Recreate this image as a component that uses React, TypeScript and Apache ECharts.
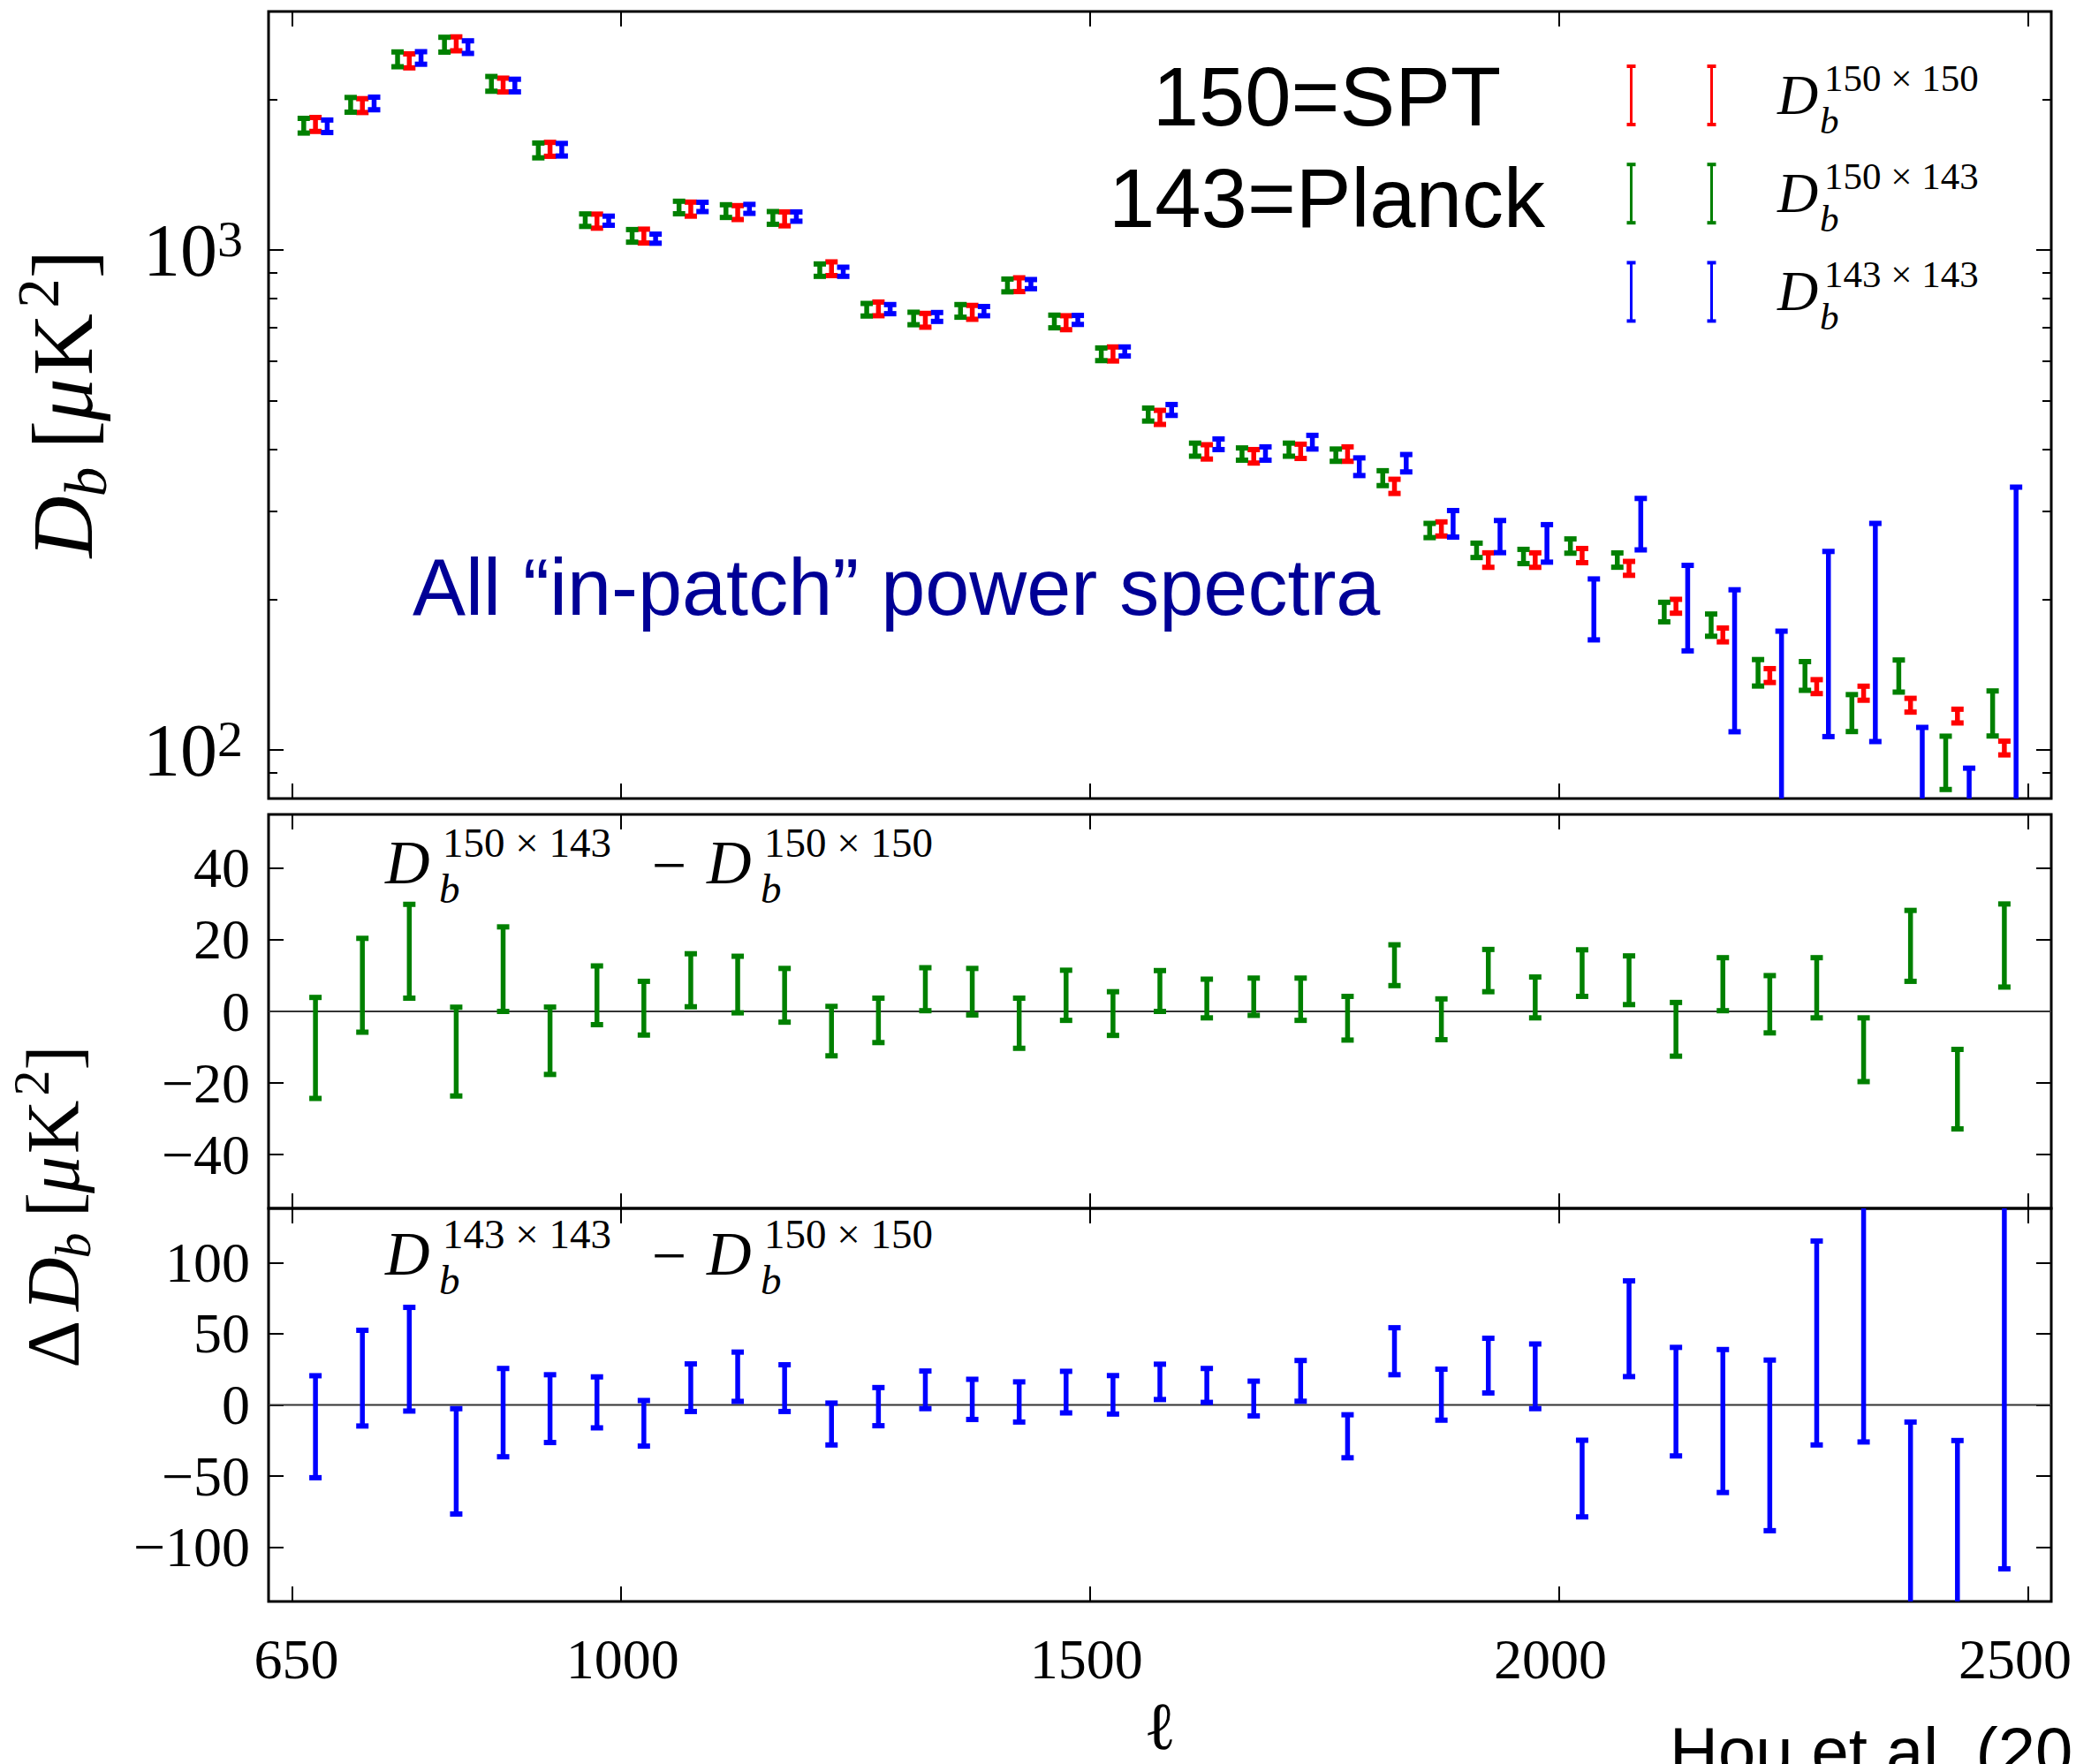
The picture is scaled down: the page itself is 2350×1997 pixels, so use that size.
import React, { useEffect, useRef } from 'react';
import * as echarts from 'echarts';

// ---------------- data ----------------
const ELL = [675, 725, 775, 825, 875, 925, 975, 1025, 1075, 1125, 1175, 1225, 1275, 1325, 1375, 1425, 1475, 1525, 1575, 1625, 1675, 1725, 1775, 1825, 1875, 1925, 1975, 2025, 2075, 2125, 2175, 2225, 2275, 2325, 2375, 2425, 2475];

// top panel: in-patch band powers D_b [uK^2]
const D_150x150 = [1784, 1946, 2391, 2587, 2139, 1591, 1143, 1067, 1208, 1189, 1155, 918, 763, 724, 751, 853, 716, 620, 463, 395, 387, 396, 391, 337, 277, 240, 240, 245, 231, 194, 170, 141, 134, 130, 123, 117, 101];
const ERR_150x150 = [57, 62, 77, 83, 68, 51, 37, 34, 39, 38, 37, 29, 24, 23, 24, 27, 23, 20, 15, 13, 12, 13, 13, 11, 9, 8, 8, 8, 7.4, 6.2, 5.4, 4.5, 4.3, 4.2, 3.9, 3.7, 3.2];
const D_150x143 = [1774, 1953, 2408, 2576, 2151, 1583, 1148, 1068, 1217, 1197, 1160, 912, 760, 730, 756, 850, 720, 619, 469, 399, 391, 399, 389, 350, 275, 251, 244, 256, 240, 189, 178, 143, 141, 119, 141, 95, 119];
const ERR_150x143 = [60, 66, 82, 88, 73, 54, 33, 31, 35, 35, 34, 26, 22, 21, 22, 25, 21, 18, 14, 12, 11, 12, 11, 12, 9, 8.3, 8, 8.4, 7.9, 8.5, 9.1, 8.7, 9.3, 10.1, 10.4, 11.6, 12.3];
const D_143x143 = [1769, 1965, 2423, 2547, 2134, 1588, 1145, 1054, 1220, 1209, 1167, 905, 762, 735, 755, 855, 725, 627, 479, 409, 392, 413, 369, 375, 284, 268, 260, 193, 285, 196, 159, 113, 178, 194, -1, -49, 161];
const ERR_143x143 = [51, 57, 70, 74, 62, 46, 24, 22, 26, 25, 25, 19, 16, 15, 16, 18, 15, 13, 12, 10, 12, 13, 15, 15, 17.3, 19.8, 22.4, 26.9, 33.6, 38.1, 50.2, 59.9, 71.6, 90, 112, 141, 174.6];

// middle panel: D^{150x143} - D^{150x150}
const DIFF_150x143 = [-10.2, 7.3, 16.8, -11.2, 11.8, -8.2, 4.5, 0.9, 8.7, 7.5, 4.5, -5.5, -2.5, 6.2, 5.5, -3.3, 4.5, -0.6, 5.7, 3.6, 4.1, 3.4, -1.9, 12.9, -2.2, 11.4, 3.9, 10.7, 8.7, -5.0, 7.6, 2.0, 6.6, -10.7, 18.3, -21.7, 18.4];
const DIFF_150x143_ERR = [14.1, 13.1, 13.1, 12.4, 11.8, 9.4, 8.2, 7.5, 7.4, 7.9, 7.5, 6.9, 6.2, 6.0, 6.5, 7.0, 7.0, 6.1, 5.7, 5.4, 5.2, 5.9, 6.1, 5.7, 5.7, 5.9, 5.7, 6.5, 6.8, 7.5, 7.4, 8.0, 8.4, 8.9, 9.9, 11.1, 11.6];

// bottom panel: D^{143x143} - D^{150x150}
const DIFF_143x143 = [-15.3, 18.8, 32.1, -39.6, -5.4, -2.6, 1.8, -12.9, 12.1, 19.8, 11.8, -13.4, -1.2, 10.6, 3.9, 2.1, 9.0, 7.1, 16.2, 13.7, 4.5, 16.9, -22.0, 37.7, 7.2, 27.6, 20.1, -51.7, 53.5, 2.3, -11.3, -28.4, 43.5, 64.0, -124, -166, 59.5];
const DIFF_143x143_ERR = [35.8, 33.6, 36.4, 37.0, 31.0, 23.8, 17.9, 16.0, 16.7, 17.3, 16.4, 14.7, 13.4, 13.2, 14.1, 14.1, 14.6, 13.5, 12.4, 11.9, 12.2, 14.3, 15.1, 16.5, 17.9, 19.2, 22.7, 26.9, 33.6, 38.1, 50.2, 59.9, 71.6, 90.0, 112, 141, 174.6];

// axes
const X_MIN = 625;
const X_MAX = 2525;
const X_TICKS = [650, 1000, 1500, 2000, 2500];
const TOP_Y_MIN = 80;
const TOP_Y_MAX = 3000;
const TOP_Y_MAJOR = [100, 1000];
const TOP_Y_MINOR = [90, 200, 300, 400, 500, 600, 700, 800, 900, 2000];
const MID_Y_MIN = -55;
const MID_Y_MAX = 55;
const MID_Y_TICKS = [-40, -20, 0, 20, 40];
const BOT_Y_MIN = -138;
const BOT_Y_MAX = 138;
const BOT_Y_TICKS = [-100, -50, 0, 50, 100];

const LEGEND_LABELS = ['150 \u00d7 150', '150 \u00d7 143', '143 \u00d7 143'];

// ---------------- styling ----------------
const RED = '#ff0000';
const GREEN = '#008000';
const BLUE = '#0000ff';
const SERIF = "'Liberation Serif', 'DejaVu Serif', serif";
const SANS = "'Liberation Sans', Arial, sans-serif";
const OFFSET_150x143 = -12.5;
const OFFSET_143x143 = 12.5;
const BAR_W = 5.5;
const CAP_W = 14;
const CAP_H = 6;

const GRID_LEFT = 304;
const GRID_W = 2018;

// horizontal nudges of the x tick labels (as placed in the reference), px
const X_LABEL_PAD: Record<number, number[]> = {
  650: [0, 0, 0, 10],
  1000: [0, 0, 0, 5],
  1500: [0, 7, 0, 0],
  2000: [0, 19, 0, 0],
  2500: [0, 29, 0, 0],
};

function errorBarRenderer(color: string, isLog: boolean) {
  return (params: any, api: any) => {
    const x = api.value(0);
    const hi = api.value(1);
    const lo = api.value(2);
    const cs = params.coordSys;
    const top = cs.y;
    const bottom = cs.y + cs.height;
    const pHi = api.coord([x, hi]);
    const cx = pHi[0];
    const yHi = pHi[1];
    const yLo = isLog && lo <= 0 ? bottom + 200 : api.coord([x, lo])[1];
    const y1 = Math.max(top, Math.min(bottom, yHi));
    const y2 = Math.max(top, Math.min(bottom, yLo));
    const children: any[] = [];
    if (y2 > y1) {
      children.push({ type: 'rect', shape: { x: cx - BAR_W / 2, y: y1, width: BAR_W, height: y2 - y1 }, style: { fill: color } });
    }
    [yHi, yLo].forEach((yy) => {
      if (yy >= top - 1 && yy <= bottom + 1) {
        children.push({ type: 'rect', shape: { x: cx - CAP_W / 2, y: yy - CAP_H / 2, width: CAP_W, height: CAP_H }, style: { fill: color } });
      }
    });
    return { type: 'group', children };
  };
}

function bars(values: number[], errs: number[], offset: number) {
  return ELL.map((l, i) => [l + offset, values[i] + errs[i], values[i] - errs[i]]);
}

function txt(text: string, x: number, y: number, size: number, o: any = {}) {
  const align = o.align || 'center';
  return {
    type: 'text',
    x,
    y,
    rotation: o.rotation || 0,
    silent: true,
    z: 100,
    style: {
      text,
      fill: o.color || '#000',
      fontSize: size,
      fontFamily: o.family || SERIF,
      fontStyle: o.italic ? 'italic' : 'normal',
      align,
      verticalAlign: 'middle',
      textAlign: align,
      textVerticalAlign: 'middle',
    },
  };
}

const tickLine = { color: '#000', width: 2 };

const xRich: any = {};
X_TICKS.forEach((t) => {
  xRich['t' + t] = { fontSize: 64, fontFamily: SERIF, color: '#000', padding: X_LABEL_PAD[t] || [0, 0, 0, 0] };
});

function xAxes(gridIndex: number, labels: boolean) {
  const base: any = {
    type: 'value',
    gridIndex,
    min: X_MIN,
    max: X_MAX,
    axisLine: { show: false, onZero: false },
    splitLine: { show: false },
    axisTick: { show: true, inside: true, length: 17, lineStyle: tickLine, customValues: X_TICKS },
  };
  return [
    {
      ...base,
      position: 'bottom',
      axisLabel: labels
        ? {
            show: true,
            customValues: X_TICKS,
            fontSize: 64,
            fontFamily: SERIF,
            color: '#000',
            margin: 65,
            verticalAlign: 'middle',
            formatter: (v: number) => `{t${v}|${v}}`,
            rich: xRich,
          }
        : { show: false },
    },
    { ...base, position: 'top', axisLabel: { show: false } },
  ];
}

function yAx(gridIndex: number, type: string, position: string, min: number, max: number, ticks: number[], len: number, label: any) {
  return {
    type,
    gridIndex,
    position,
    min,
    max,
    offset: 0,
    axisLine: { show: false, onZero: false },
    splitLine: { show: false },
    minorTick: { show: false },
    axisTick: { show: true, inside: true, length: len, lineStyle: tickLine, customValues: ticks },
    axisLabel: label ? { ...label, customValues: ticks } : { show: false },
  };
}

const linLabel = {
  show: true,
  fontSize: 64,
  fontFamily: SERIF,
  color: '#000',
  margin: 21,
  formatter: (v: number) => (v < 0 ? '\u2212' + Math.abs(v) : String(v)),
};

const logLabel = {
  show: true,
  margin: 29,
  formatter: (v: number) => `{m|10}{s|${Math.round(Math.log10(v))}}`,
  rich: {
    m: { fontSize: 84, fontFamily: SERIF, color: '#000' },
    s: { fontSize: 58, fontFamily: SERIF, color: '#000', verticalAlign: 'top' },
  },
};

function buildOption() {
  const gridBase = { show: true, borderColor: '#000', borderWidth: 3, backgroundColor: 'transparent', containLabel: false, outerBoundsMode: 'none' };

  const graphics: any[] = [];
  // in-plot texts
  graphics.push(txt('150=SPT', 1502, 109, 94, { family: SANS }));
  graphics.push(txt('143=Planck', 1502, 224, 94, { family: SANS }));
  graphics.push(txt('All \u201Cin-patch\u201D power spectra', 467, 665, 90, { family: SANS, align: 'left', color: '#000096' }));
  graphics.push(txt('Hou et al. (2018)', 1890, 1982, 76, { family: SANS, align: 'left' }));
  graphics.push(txt('\u2113', 1313, 1954, 76));

  // legend (two error-bar glyphs per entry + math label)
  const legendColors = [RED, GREEN, BLUE];
  legendColors.forEach((c, r) => {
    const cy = 108 + 111.2 * r;
    [1846.5, 1937.5].forEach((lx) => {
      graphics.push({ type: 'rect', silent: true, z: 100, shape: { x: lx - 1.5, y: cy - 33, width: 3, height: 66 }, style: { fill: c } });
      graphics.push({ type: 'rect', silent: true, z: 100, shape: { x: lx - 5, y: cy - 35, width: 10, height: 4 }, style: { fill: c } });
      graphics.push({ type: 'rect', silent: true, z: 100, shape: { x: lx - 5, y: cy + 31, width: 10, height: 4 }, style: { fill: c } });
    });
    graphics.push(txt('D', 2012, cy - 0.5, 64, { italic: true, align: 'left' }));
    graphics.push(txt(LEGEND_LABELS[r], 2065, cy - 20, 43, { align: 'left' }));
    graphics.push(txt('b', 2060, cy + 28, 43, { italic: true, align: 'left' }));
  });

  // panel annotations
  const diffLabel = (y0: number, supA: string, supB: string) => {
    graphics.push(txt('D', 436, y0, 70, { italic: true, align: 'left' }));
    graphics.push(txt(supA, 501, y0 - 23, 47, { align: 'left' }));
    graphics.push(txt('b', 497, y0 + 29, 47, { italic: true, align: 'left' }));
    graphics.push(txt('\u2212', 757.6, y0 + 2.3, 70));
    graphics.push(txt('D', 800, y0, 70, { italic: true, align: 'left' }));
    graphics.push(txt(supB, 865, y0 - 23, 47, { align: 'left' }));
    graphics.push(txt('b', 861, y0 + 29, 47, { italic: true, align: 'left' }));
  };
  diffLabel(976.7, LEGEND_LABELS[1], LEGEND_LABELS[0]);
  diffLabel(1419.5, LEGEND_LABELS[2], LEGEND_LABELS[0]);

  // y-axis titles (rotated)
  const R = Math.PI / 2;
  graphics.push(txt('D', 71.3, 596.5, 97, { italic: true, rotation: R }));
  graphics.push(txt('b', 97, 545.5, 67, { italic: true, rotation: R }));
  graphics.push(txt('[', 71.3, 492, 97, { rotation: R }));
  graphics.push(txt('\u03bc', 71.3, 452.7, 97, { italic: true, rotation: R }));
  graphics.push(txt('K', 71.3, 390, 97, { rotation: R }));
  graphics.push(txt('2', 42.8, 332, 67, { rotation: R }));
  graphics.push(txt(']', 71.3, 299, 97, { rotation: R }));

  graphics.push(txt('\u0394', 60, 1521.7, 84, { rotation: R }));
  graphics.push(txt('D', 60, 1454, 84, { italic: true, rotation: R }));
  graphics.push(txt('b', 82, 1410, 58, { italic: true, rotation: R }));
  graphics.push(txt('[', 60, 1364, 84, { rotation: R }));
  graphics.push(txt('\u03bc', 60, 1330, 84, { italic: true, rotation: R }));
  graphics.push(txt('K', 60, 1276, 84, { rotation: R }));
  graphics.push(txt('2', 35.4, 1226, 58, { rotation: R }));
  graphics.push(txt(']', 60, 1197.5, 84, { rotation: R }));

  const zeroLine = (xi: number, yi: number) => ({
    type: 'line',
    xAxisIndex: xi,
    yAxisIndex: yi,
    data: [[X_MIN, 0], [X_MAX, 0]],
    symbol: 'none',
    silent: true,
    z: 1,
    lineStyle: { color: '#333', width: 2 },
  });

  const custom = (name: string, xi: number, yi: number, data: number[][], color: string, isLog: boolean) => ({
    type: 'custom',
    name,
    xAxisIndex: xi,
    yAxisIndex: yi,
    data,
    encode: { x: 0, y: 1 },
    renderItem: errorBarRenderer(color, isLog),
    clip: false,
    silent: true,
    z: 3,
  });

  return {
    animation: false,
    backgroundColor: '#ffffff',
    grid: [
      { ...gridBase, left: GRID_LEFT, top: 13, width: GRID_W, height: 891 },
      { ...gridBase, left: GRID_LEFT, top: 922, width: GRID_W, height: 446 },
      { ...gridBase, left: GRID_LEFT, top: 1368, width: GRID_W, height: 445 },
    ],
    xAxis: [...xAxes(0, false), ...xAxes(1, false), ...xAxes(2, true)],
    yAxis: [
      yAx(0, 'log', 'left', TOP_Y_MIN, TOP_Y_MAX, TOP_Y_MAJOR, 17, logLabel),
      yAx(0, 'log', 'right', TOP_Y_MIN, TOP_Y_MAX, TOP_Y_MAJOR, 17, null),
      yAx(0, 'log', 'left', TOP_Y_MIN, TOP_Y_MAX, TOP_Y_MINOR, 10, null),
      yAx(0, 'log', 'right', TOP_Y_MIN, TOP_Y_MAX, TOP_Y_MINOR, 10, null),
      yAx(1, 'value', 'left', MID_Y_MIN, MID_Y_MAX, MID_Y_TICKS, 17, linLabel),
      yAx(1, 'value', 'right', MID_Y_MIN, MID_Y_MAX, MID_Y_TICKS, 17, null),
      yAx(2, 'value', 'left', BOT_Y_MIN, BOT_Y_MAX, BOT_Y_TICKS, 17, linLabel),
      yAx(2, 'value', 'right', BOT_Y_MIN, BOT_Y_MAX, BOT_Y_TICKS, 17, null),
    ],
    series: [
      zeroLine(2, 4),
      zeroLine(4, 6),
      custom('D150x150', 0, 0, bars(D_150x150, ERR_150x150, 0), RED, true),
      custom('D150x143', 0, 0, bars(D_150x143, ERR_150x143, OFFSET_150x143), GREEN, true),
      custom('D143x143', 0, 0, bars(D_143x143, ERR_143x143, OFFSET_143x143), BLUE, true),
      custom('diff150x143', 2, 4, bars(DIFF_150x143, DIFF_150x143_ERR, 0), GREEN, false),
      custom('diff143x143', 4, 6, bars(DIFF_143x143, DIFF_143x143_ERR, 0), BLUE, false),
    ],
    graphic: { elements: graphics },
  };
}

export default function App() {
  const ref = useRef<HTMLDivElement>(null);
  useEffect(() => {
    if (!ref.current) return;
    const chart = echarts.init(ref.current, undefined, { renderer: 'svg' });
    chart.setOption(buildOption() as any);
    return () => {
      chart.dispose();
    };
  }, []);
  return (
    <div
      ref={ref}
      style={{ position: 'absolute', left: 0, top: 0, width: 2350, height: 1997, background: '#ffffff' }}
    />
  );
}
